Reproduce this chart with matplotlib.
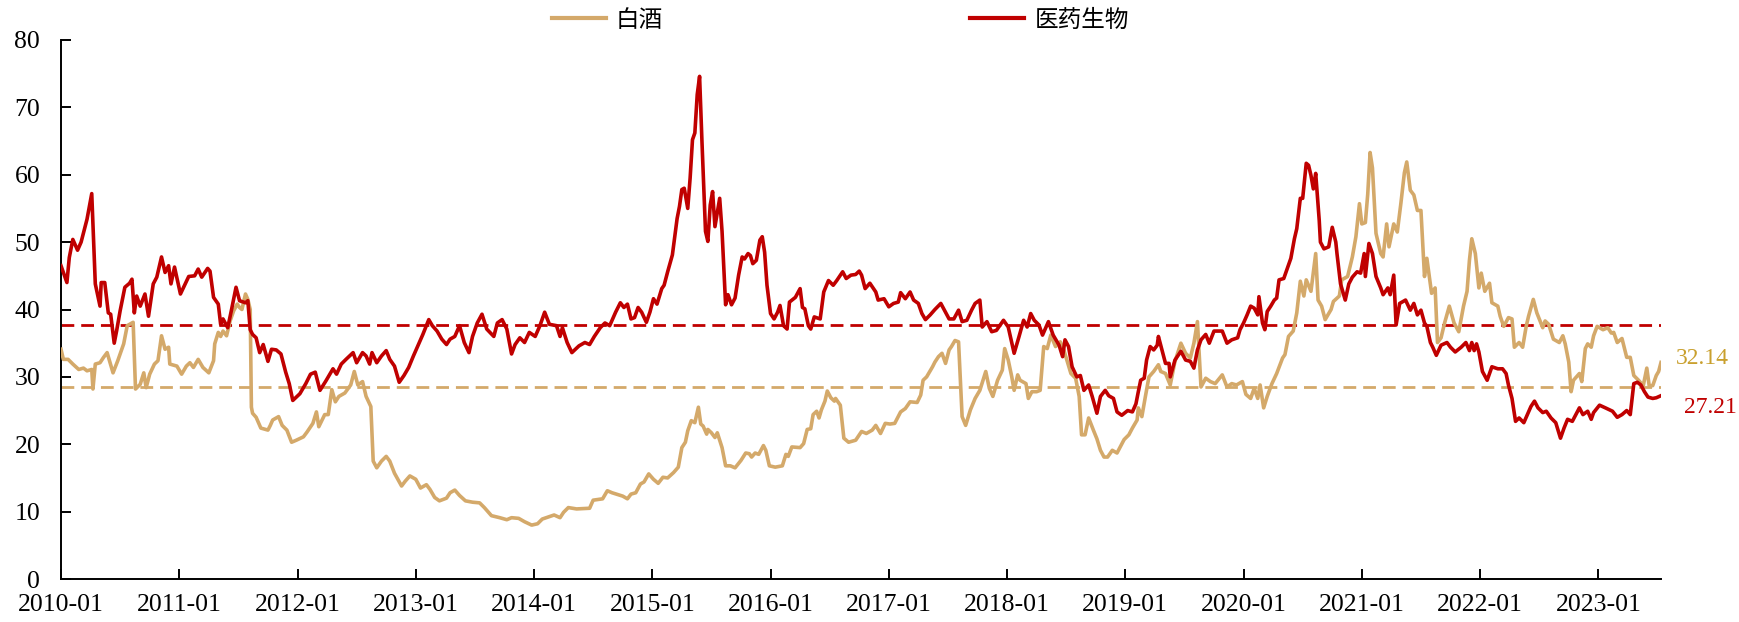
import matplotlib
matplotlib.use("Agg")
import matplotlib.pyplot as plt
import matplotlib.transforms as mtransforms

# ---------------- data (decimal year, value) ----------------
red_t = [2010.00,2010.05,2010.07,2010.10,2010.14,2010.17,2010.22,2010.26,2010.29,2010.33,2010.34,2010.37,2010.40,2010.42,2010.45,2010.47,2010.50,2010.54,2010.58,2010.60,2010.62,2010.64,2010.67,2010.71,2010.74,2010.78,2010.81,2010.85,2010.88,2010.91,2010.93,2010.96,
         2011.01,2011.05,2011.08,2011.13,2011.16,2011.19,2011.24,2011.26,2011.29,2011.33,2011.35,2011.37,2011.41,2011.44,2011.48,2011.51,2011.56,2011.58,2011.60,2011.62,2011.65,2011.68,2011.71,2011.75,2011.78,2011.82,2011.86,2011.90,2011.93,2011.96,
         2012.02,2012.07,2012.11,2012.15,2012.19,2012.24,2012.30,2012.33,2012.37,2012.41,2012.47,2012.50,2012.55,2012.58,2012.61,2012.63,2012.67,2012.71,2012.75,2012.78,2012.82,2012.86,2012.90,2012.94,2012.98,
         2013.03,2013.06,2013.11,2013.14,2013.18,2013.22,2013.26,2013.29,2013.33,2013.37,2013.41,2013.45,2013.48,2013.52,2013.56,2013.60,2013.66,2013.69,2013.73,2013.77,2013.81,2013.84,2013.88,2013.92,2013.96,
         2014.01,2014.05,2014.09,2014.13,2014.19,2014.22,2014.24,2014.28,2014.32,2014.38,2014.43,2014.47,2014.51,2014.56,2014.60,2014.64,2014.69,2014.73,2014.76,2014.79,2014.82,2014.85,2014.88,2014.91,2014.95,2014.98,
         2015.01,2015.04,2015.08,2015.10,2015.13,2015.17,2015.21,2015.23,2015.25,2015.27,2015.30,2015.32,2015.34,2015.36,2015.38,2015.40,2015.42,2015.45,2015.47,2015.49,2015.51,2015.53,2015.57,2015.59,2015.62,2015.64,2015.67,2015.70,2015.73,2015.76,2015.78,2015.81,2015.83,2015.85,2015.88,2015.91,2015.93,2015.95,2015.97,
         2016.00,2016.03,2016.06,2016.08,2016.11,2016.14,2016.16,2016.21,2016.25,2016.27,2016.29,2016.32,2016.34,2016.37,2016.42,2016.45,2016.49,2016.53,2016.56,2016.61,2016.64,2016.68,2016.72,2016.75,2016.77,2016.80,2016.84,2016.89,2016.91,2016.96,
         2017.00,2017.04,2017.08,2017.10,2017.14,2017.18,2017.21,2017.25,2017.28,2017.31,2017.35,2017.39,2017.44,2017.48,2017.51,2017.55,2017.59,2017.62,2017.66,2017.70,2017.73,2017.77,2017.79,2017.83,2017.87,2017.91,2017.97,
         2018.01,2018.06,2018.10,2018.14,2018.17,2018.20,2018.23,2018.27,2018.30,2018.35,2018.39,2018.44,2018.47,2018.49,2018.52,2018.55,2018.59,2018.62,2018.65,2018.69,2018.72,2018.76,2018.79,2018.83,2018.86,2018.90,2018.93,2018.97,
         2019.02,2019.06,2019.09,2019.11,2019.13,2019.16,2019.18,2019.21,2019.24,2019.27,2019.28,2019.31,2019.34,2019.37,2019.38,2019.42,2019.47,2019.51,2019.55,2019.58,2019.61,2019.64,2019.68,2019.71,2019.75,2019.79,2019.82,2019.86,2019.90,2019.95,2019.97,
         2020.00,2020.03,2020.06,2020.09,2020.12,2020.13,2020.16,2020.18,2020.20,2020.23,2020.26,2020.28,2020.30,2020.34,2020.37,2020.40,2020.43,2020.45,2020.48,2020.50,2020.53,2020.55,2020.57,2020.59,2020.61,2020.64,2020.65,2020.68,2020.72,2020.75,2020.78,2020.79,2020.82,2020.86,2020.89,2020.92,2020.96,2020.99,
         2021.02,2021.03,2021.06,2021.09,2021.12,2021.16,2021.18,2021.22,2021.24,2021.27,2021.29,2021.32,2021.37,2021.41,2021.44,2021.47,2021.50,2021.53,2021.55,2021.58,2021.60,2021.63,2021.67,2021.72,2021.75,2021.79,2021.84,2021.88,2021.91,2021.93,2021.95,2021.97,2021.99,
         2022.02,2022.06,2022.10,2022.15,2022.19,2022.22,2022.24,2022.27,2022.30,2022.33,2022.37,2022.40,2022.43,2022.46,2022.49,2022.53,2022.56,2022.60,2022.64,2022.68,2022.71,2022.74,2022.78,2022.81,2022.84,2022.87,2022.91,2022.94,2022.96,
         2023.01,2023.06,2023.12,2023.16,2023.20,2023.24,2023.27,2023.30,2023.33,2023.36,2023.39,2023.42,2023.46,2023.49,2023.53]
red_v = [46.5,44.0,47.7,50.4,48.8,50.0,53.4,57.2,43.8,40.5,44.0,44.0,39.5,39.3,35.0,36.8,39.8,43.3,43.9,44.5,39.5,42.0,40.5,42.3,39.0,43.8,44.8,47.8,45.5,46.5,43.8,46.3,
         42.3,43.8,44.9,45.0,46.0,44.8,46.1,45.7,41.8,40.8,37.8,38.6,37.3,39.8,43.3,41.3,41.0,41.3,37.0,36.3,35.8,33.6,34.8,32.3,34.1,34.0,33.4,30.7,29.0,26.5,
         27.5,29.0,30.4,30.7,28.0,29.4,31.2,30.4,31.9,32.6,33.6,32.1,33.6,33.1,31.9,33.6,32.1,33.1,33.9,32.6,31.6,29.2,30.2,31.4,33.1,
         35.1,36.3,38.5,37.6,36.8,35.6,34.8,35.6,36.0,37.6,35.1,33.6,36.0,38.0,39.3,37.1,36.0,38.0,38.5,37.1,33.4,34.8,35.8,35.1,36.6,
         36.0,37.6,39.6,37.8,37.6,36.0,37.3,35.1,33.6,34.6,35.1,34.8,36.0,37.3,38.0,37.6,39.6,41.0,40.3,40.8,38.6,38.8,40.3,39.6,38.1,39.6,
         41.6,40.8,43.1,43.6,45.6,48.1,53.5,55.3,57.8,58.0,55.0,59.5,65.2,66.2,71.9,74.6,65.0,51.6,50.1,55.5,57.5,52.3,56.5,51.6,40.7,42.2,40.7,41.7,45.1,47.8,47.5,48.3,48.0,46.8,47.3,50.3,50.8,48.5,43.6,
         39.4,38.6,39.6,40.6,37.6,37.1,41.1,41.8,43.1,40.3,40.1,37.6,37.1,38.9,38.6,42.6,44.3,43.6,44.3,45.6,44.6,45.1,45.2,45.7,45.1,43.1,43.9,42.6,41.4,41.6,
         40.4,40.9,41.1,42.5,41.6,42.6,41.4,40.9,39.4,38.5,39.2,40.0,40.9,39.6,38.6,38.6,39.9,38.2,38.4,39.9,40.9,41.4,37.4,38.2,36.7,36.9,38.4,
         37.4,33.5,35.9,38.4,37.4,39.4,38.4,37.7,36.2,38.2,36.2,34.7,33.0,35.5,34.5,31.5,30.0,30.2,28.0,28.8,27.1,24.6,27.1,28.0,27.2,26.8,24.8,24.3,
         25.0,24.8,26.0,27.8,29.5,29.8,32.5,34.5,34.0,34.7,36.0,34.0,32.0,32.0,30.0,32.5,33.8,32.5,32.3,31.3,34.0,35.5,36.3,35.0,36.8,36.8,36.8,35.0,35.5,35.8,37.0,
         38.0,39.2,40.5,40.2,39.2,41.9,38.0,37.0,39.7,40.5,41.4,41.7,44.4,44.6,46.1,47.6,50.5,52.0,56.5,56.5,61.7,61.4,59.9,57.9,60.2,53.2,50.0,49.0,49.3,52.2,50.0,48.3,43.8,41.4,43.8,44.8,45.6,45.4,
         48.3,44.9,49.8,48.3,44.9,43.2,42.2,43.2,42.2,45.1,37.7,40.9,41.4,39.9,40.9,39.2,39.9,38.0,37.5,35.1,34.4,33.2,34.7,35.1,34.4,33.7,34.4,35.1,33.9,35.1,33.9,34.9,33.7,
         30.8,29.5,31.5,31.2,31.2,30.5,28.8,26.8,23.4,23.9,23.2,24.4,25.6,26.4,25.4,24.7,24.9,23.9,23.2,20.9,22.4,23.7,23.4,24.4,25.4,24.4,24.9,23.7,24.7,
         25.8,25.4,24.9,24.0,24.4,25.0,24.4,29.0,29.2,28.8,27.8,27.0,26.8,26.9,27.21]

tan_t = [2010.00,2010.02,2010.06,2010.10,2010.15,2010.19,2010.22,2010.26,2010.27,2010.29,2010.33,2010.36,2010.39,2010.41,2010.44,2010.48,2010.53,2010.56,2010.58,2010.61,2010.63,2010.67,2010.70,2010.72,2010.75,2010.79,2010.82,2010.85,2010.88,2010.91,2010.92,2010.98,
         2011.02,2011.06,2011.09,2011.12,2011.16,2011.20,2011.25,2011.29,2011.30,2011.33,2011.35,2011.37,2011.40,2011.43,2011.46,2011.49,2011.51,2011.53,2011.56,2011.58,2011.60,2011.61,2011.62,2011.65,2011.69,2011.75,2011.77,2011.79,2011.84,2011.87,2011.91,2011.95,2011.99,
         2012.05,2012.08,2012.13,2012.16,2012.18,2012.23,2012.26,2012.29,2012.32,2012.35,2012.40,2012.45,2012.48,2012.51,2012.55,2012.58,2012.62,2012.64,2012.67,2012.71,2012.75,2012.78,2012.82,2012.88,2012.91,2012.95,
         2013.00,2013.04,2013.09,2013.12,2013.16,2013.20,2013.26,2013.29,2013.33,2013.37,2013.42,2013.48,2013.54,2013.58,2013.64,2013.71,2013.77,2013.81,2013.87,2013.92,2013.98,
         2014.03,2014.07,2014.17,2014.22,2014.25,2014.29,2014.36,2014.47,2014.50,2014.58,2014.62,2014.66,2014.75,2014.79,2014.82,2014.86,2014.90,2014.93,2014.97,
         2015.01,2015.05,2015.09,2015.13,2015.18,2015.22,2015.25,2015.28,2015.30,2015.33,2015.36,2015.39,2015.41,2015.43,2015.46,2015.47,2015.50,2015.53,2015.55,2015.59,2015.62,2015.66,2015.70,2015.75,2015.79,2015.82,2015.84,2015.87,2015.90,2015.94,2015.96,2015.99,
         2016.04,2016.10,2016.13,2016.15,2016.18,2016.25,2016.28,2016.31,2016.34,2016.36,2016.39,2016.41,2016.43,2016.46,2016.48,2016.51,2016.54,2016.55,2016.59,2016.62,2016.66,2016.72,2016.77,2016.81,2016.86,2016.89,2016.93,2016.97,
         2017.01,2017.05,2017.10,2017.14,2017.18,2017.24,2017.27,2017.29,2017.32,2017.37,2017.39,2017.42,2017.45,2017.48,2017.51,2017.53,2017.56,2017.59,2017.62,2017.65,2017.69,2017.73,2017.77,2017.82,2017.85,2017.88,2017.92,2017.96,2017.98,
         2018.01,2018.04,2018.06,2018.09,2018.11,2018.16,2018.18,2018.21,2018.25,2018.28,2018.31,2018.34,2018.37,2018.41,2018.45,2018.48,2018.54,2018.58,2018.61,2018.63,2018.66,2018.69,2018.73,2018.76,2018.79,2018.82,2018.85,2018.89,2018.93,2018.99,
         2019.03,2019.06,2019.10,2019.11,2019.14,2019.17,2019.20,2019.24,2019.28,2019.30,2019.34,2019.38,2019.42,2019.47,2019.51,2019.55,2019.58,2019.61,2019.64,2019.68,2019.72,2019.76,2019.82,2019.86,2019.90,2019.94,2019.99,
         2020.02,2020.06,2020.09,2020.12,2020.14,2020.17,2020.20,2020.24,2020.28,2020.33,2020.35,2020.38,2020.42,2020.45,2020.48,2020.51,2020.53,2020.57,2020.61,2020.63,2020.66,2020.69,2020.74,2020.76,2020.81,2020.83,2020.88,2020.92,2020.95,2020.98,
         2021.00,2021.03,2021.05,2021.07,2021.09,2021.12,2021.16,2021.18,2021.21,2021.23,2021.27,2021.30,2021.33,2021.36,2021.38,2021.41,2021.44,2021.47,2021.50,2021.53,2021.55,2021.59,2021.62,2021.64,2021.67,2021.70,2021.74,2021.78,2021.82,2021.86,2021.89,2021.91,2021.93,2021.96,2021.99,
         2022.01,2022.04,2022.08,2022.10,2022.15,2022.17,2022.20,2022.24,2022.27,2022.29,2022.33,2022.36,2022.39,2022.41,2022.45,2022.48,2022.53,2022.55,2022.58,2022.62,2022.67,2022.70,2022.72,2022.75,2022.77,2022.79,2022.84,2022.86,2022.89,2022.91,2022.94,2022.96,2022.99,
         2023.04,2023.08,2023.11,2023.13,2023.16,2023.20,2023.24,2023.27,2023.30,2023.34,2023.38,2023.41,2023.43,2023.46,2023.49,2023.51,2023.53]
tan_v = [34.1,32.6,32.6,31.9,31.1,31.3,30.9,31.1,28.2,31.9,32.1,32.9,33.6,32.4,30.6,32.4,34.9,37.6,37.8,38.1,28.2,28.9,30.6,28.4,30.4,31.9,32.4,36.1,34.1,34.4,31.9,31.6,
         30.4,31.6,32.1,31.4,32.6,31.4,30.6,32.4,34.9,36.6,36.0,36.8,36.1,38.3,39.8,40.8,40.3,40.0,42.3,41.5,40.0,25.5,24.6,24.0,22.4,22.1,22.8,23.6,24.1,22.8,22.1,20.3,20.6,
         21.1,21.8,23.1,24.8,22.6,24.4,24.4,28.1,26.3,27.1,27.6,28.8,30.8,28.8,29.3,27.1,25.6,17.5,16.5,17.5,18.2,17.5,15.7,13.8,14.5,15.3,
         14.8,13.5,14.0,13.3,12.1,11.6,12.0,12.8,13.2,12.4,11.6,11.4,11.3,10.6,9.4,9.1,8.8,9.1,9.0,8.5,8.0,
         8.2,8.9,9.5,9.1,9.9,10.6,10.4,10.5,11.7,11.9,13.1,12.8,12.3,11.9,12.6,12.8,14.1,14.4,15.6,
         14.8,14.2,15.1,15.0,15.8,16.6,19.5,20.3,22.0,23.5,23.2,25.5,23.0,22.7,21.5,22.2,21.7,21.0,21.7,19.5,16.8,16.8,16.5,17.6,18.7,18.6,18.1,18.7,18.5,19.8,19.1,16.8,
         16.6,16.8,18.5,18.2,19.6,19.5,20.1,22.2,22.3,24.4,24.9,23.9,25.1,26.4,27.9,26.9,26.4,26.8,25.8,20.9,20.3,20.6,21.9,21.6,22.1,22.8,21.6,23.1,
         23.0,23.1,24.8,25.3,26.3,26.2,27.3,29.5,30.0,31.5,32.2,33.0,33.5,32.0,34.0,34.5,35.4,35.2,24.1,22.8,25.1,26.8,28.0,30.8,28.3,27.1,29.5,31.0,34.2,
         32.5,30.0,28.0,30.3,29.5,29.0,26.8,27.8,27.8,28.0,34.5,34.2,36.2,34.5,35.2,34.0,30.5,29.8,27.1,21.4,21.4,23.9,22.1,20.8,19.1,18.1,18.1,19.1,18.7,20.7,
         21.4,22.4,23.6,25.4,24.1,27.1,30.0,30.8,31.8,30.8,30.5,28.8,32.3,35.0,33.5,32.8,35.0,38.2,28.5,29.8,29.3,29.0,30.3,28.5,29.0,28.8,29.3,
         27.4,26.8,28.3,26.8,28.8,25.4,27.1,29.0,30.5,32.8,33.3,36.0,36.8,39.5,44.2,42.0,44.4,42.7,48.3,41.4,40.5,38.5,40.0,41.2,42.0,44.4,44.9,47.8,50.8,55.7,
         52.7,52.9,57.1,63.3,61.0,51.3,48.3,47.8,52.7,49.3,52.7,51.5,55.7,60.3,61.9,57.7,57.0,54.7,54.7,44.9,47.6,42.4,43.2,35.1,35.8,38.0,40.5,38.0,36.7,40.5,42.7,47.3,50.5,48.3,43.2,
         45.4,42.7,43.9,41.0,40.5,39.0,37.5,38.8,38.6,34.4,35.1,34.4,37.5,39.0,41.5,39.5,37.3,38.3,37.8,35.6,35.1,36.1,34.9,32.2,27.8,29.5,30.5,29.3,34.2,34.9,34.4,36.1,37.5,
         37.0,37.3,36.5,36.6,35.1,35.7,32.9,32.9,30.2,29.5,28.7,31.3,28.7,28.7,30.2,30.8,32.14]

red_avg = 37.7
tan_avg = 28.5
tick_years = list(range(2010, 2024))
tick_labels = [f"{y}-01" for y in tick_years]
series_names = ["白酒", "医药生物"]
end_labels = ["32.14", "27.21"]

TAN = "#D4A96A"
RED = "#C00000"
GOLD = "#C9A02E"

# ---------------- figure ----------------
fig = plt.figure(figsize=(17.40, 6.22), dpi=100)
ax = fig.add_axes([61/1740, 1 - 579/622, 1600/1740, 539/622])

serif = "Liberation Serif"
cjk = ["Noto Sans CJK SC", "DejaVu Sans"]

l1, = ax.plot(tan_t, tan_v, color=TAN, lw=2.6, label=series_names[0], zorder=3)
l2, = ax.plot(red_t, red_v, color=RED, lw=2.6, label=series_names[1], zorder=4)

ax.axhline(red_avg, color=RED, lw=2.0, dashes=(4.6, 2.5), zorder=2)
ax.axhline(tan_avg, color=TAN, lw=2.0, dashes=(4.6, 2.5), zorder=2)

ax.set_xlim(2010.0, 2023.53)
ax.set_ylim(0, 80)
ax.set_yticks(range(0, 81, 10))
ax.set_xticks(tick_years)
ax.set_xticklabels(tick_labels)

for s in ["top", "right"]:
    ax.spines[s].set_visible(False)
for s in ["left", "bottom"]:
    ax.spines[s].set_linewidth(1.4)
    ax.spines[s].set_color("black")

ax.tick_params(axis="both", direction="in", length=7, width=1.4, colors="black")
ax.tick_params(axis="y", pad=15)
ax.tick_params(axis="x", pad=11)
for lab in ax.get_xticklabels() + ax.get_yticklabels():
    lab.set_fontfamily(serif)
    lab.set_fontsize(18.5)

# end labels
trans = mtransforms.blended_transform_factory(ax.transAxes, ax.transData)
ax.text(1.0094, 32.8, end_labels[0], transform=trans, color=GOLD, fontsize=17,
        fontfamily=serif, va="center", ha="left", clip_on=False)
ax.text(1.0144, 25.4, end_labels[1], transform=trans, color=RED, fontsize=17,
        fontfamily=serif, va="center", ha="left", clip_on=False)

leg = ax.legend(handles=[l1, l2], ncol=2, loc="center", bbox_to_anchor=(0.487, 1.037),
                frameon=False, prop={"family": cjk, "size": 17},
                handlelength=2.3, handletextpad=0.42, columnspacing=13.0,
                borderaxespad=0, borderpad=0)
for h in leg.get_lines():
    h.set_linewidth(3.0)

fig.savefig("out.png", dpi=100)
